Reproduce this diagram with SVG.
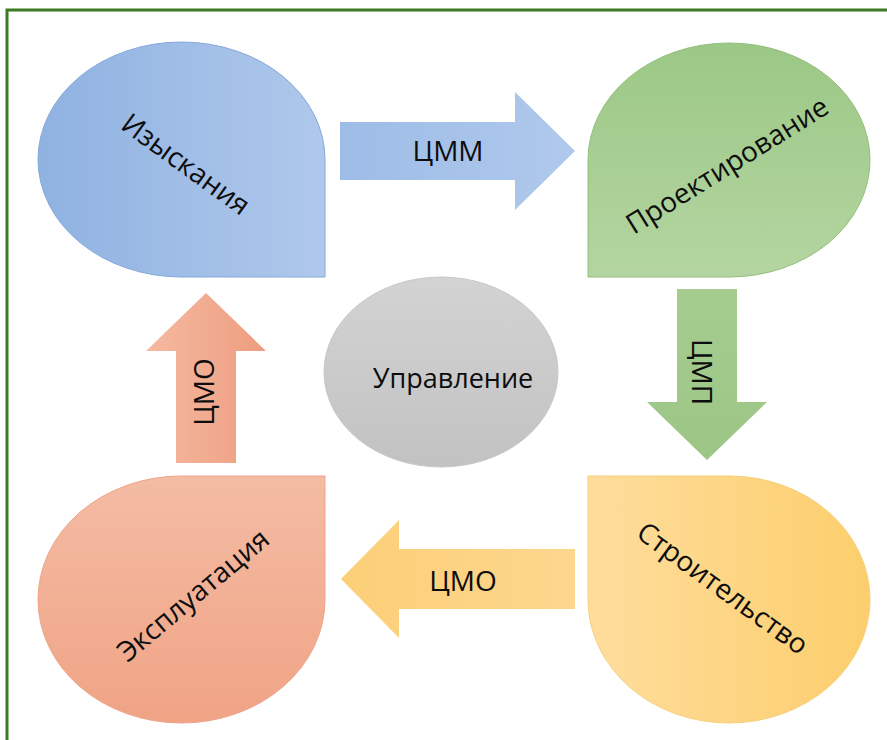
<svg xmlns="http://www.w3.org/2000/svg" width="887" height="740" viewBox="0 0 887 740">
<defs>
<linearGradient id="gBlue" x1="0" y1="0" x2="1" y2="0"><stop offset="0" stop-color="#8fb2e1"/><stop offset="1" stop-color="#afc8eb"/></linearGradient>
<linearGradient id="gGreen" x1="0" y1="0" x2="0" y2="1"><stop offset="0" stop-color="#9bc886"/><stop offset="1" stop-color="#b4d5a1"/></linearGradient>
<linearGradient id="gYellow" x1="0" y1="0" x2="1" y2="0"><stop offset="0" stop-color="#fedd9d"/><stop offset="1" stop-color="#fcce6c"/></linearGradient>
<linearGradient id="gOrange" x1="0" y1="0" x2="0" y2="1"><stop offset="0" stop-color="#f4bca4"/><stop offset="1" stop-color="#f0a385"/></linearGradient>
<linearGradient id="gGrey" x1="0" y1="0" x2="0" y2="1"><stop offset="0" stop-color="#d3d3d3"/><stop offset="1" stop-color="#c2c2c2"/></linearGradient>
<linearGradient id="aBlue" x1="0" y1="0" x2="1" y2="0"><stop offset="0" stop-color="#9dbce7"/><stop offset="1" stop-color="#b0c9ec"/></linearGradient>
<linearGradient id="aOrange" x1="0" y1="0" x2="1" y2="0"><stop offset="0" stop-color="#f5baa1"/><stop offset="1" stop-color="#ee9d80"/></linearGradient>
<linearGradient id="aGreen" x1="0" y1="0" x2="0" y2="1"><stop offset="0" stop-color="#a6cc90"/><stop offset="1" stop-color="#9cc685"/></linearGradient>
<linearGradient id="aYellow" x1="0" y1="0" x2="1" y2="0"><stop offset="0" stop-color="#fccf78"/><stop offset="1" stop-color="#fdd78e"/></linearGradient>
</defs>
<style>
text{font-family:"Open Sans","Liberation Sans",sans-serif;fill:#0d0d0d;text-anchor:middle}
.lbl{font-size:28px}
.arr{stroke:none}
</style>
<rect width="887" height="740" fill="#ffffff"/>
<path d="M7,740 L7,10 L887,10" fill="none" stroke="#3a7a22" stroke-width="3"/>
<g id="connectors">
<polygon class="arr" fill="url(#aBlue)" points="340,122 515,122 515,92 575,151 515,210 515,180 340,180"/>
<polygon class="arr" fill="url(#aGreen)" points="677,289 737,289 737,402 767,402 707,460 647,402 677,402"/>
<polygon class="arr" fill="url(#aYellow)" points="575,549 575,609 399,609 399,638 341,579 399,520 399,549"/>
<polygon class="arr" fill="url(#aOrange)" points="176,463 236,463 236,351 266,351 206,293 146,351 176,351"/>
<text class="lbl" x="448" y="161">ЦММ</text>
<text class="lbl" transform="translate(702,372) rotate(90)" y="10">ЦМП</text>
<text class="lbl" x="463" y="591">ЦМО</text>
<text class="lbl" transform="translate(204,392) rotate(-90)" y="10">ЦМО</text>
</g>
<g id="izyskaniya">
<path d="M181.5,277 A143.5,117.5 0 0 1 38,159.5 A143.5,117.5 0 0 1 181.5,42 A143.5,117.5 0 0 1 325,159.5 L325,277 Z" fill="url(#gBlue)" stroke="#86a9da" stroke-width="1"/>
<text class="lbl" transform="translate(186,164) rotate(36)" y="10">Изыскания</text>
</g>
<g id="proektirovanie">
<path d="M588,277 L588,160 A141,117 0 0 1 729,43 A141,117 0 0 1 870,160 A141,117 0 0 1 729,277 Z" fill="url(#gGreen)" stroke="#93bf7b" stroke-width="1"/>
<text class="lbl" transform="translate(727,165) rotate(-32)" y="10">Проектирование</text>
</g>
<g id="stroitelstvo">
<path d="M588,476 L729,476 A141,123.5 0 0 1 870,599.5 A141,123.5 0 0 1 729,723 A141,123.5 0 0 1 588,599.5 Z" fill="url(#gYellow)" stroke="#f8cf7a" stroke-width="1"/>
<text class="lbl" transform="translate(723,588) rotate(36)" y="10">Строительство</text>
</g>
<g id="ekspluatatsiya">
<path d="M325,476 L325,599.5 A143.5,123.5 0 0 1 181.5,723 A143.5,123.5 0 0 1 38,599.5 A143.5,123.5 0 0 1 181.5,476 Z" fill="url(#gOrange)" stroke="#eea58a" stroke-width="1"/>
<text class="lbl" transform="translate(193,595) rotate(-40)" y="10">Эксплуатация</text>
</g>
<g id="upravlenie">
<ellipse cx="441" cy="372" rx="117" ry="95" fill="url(#gGrey)" stroke="#c8c8c8" stroke-width="1"/>
<text class="lbl" x="453" y="388" style="font-size:27px">Управление</text>
</g>
</svg>
